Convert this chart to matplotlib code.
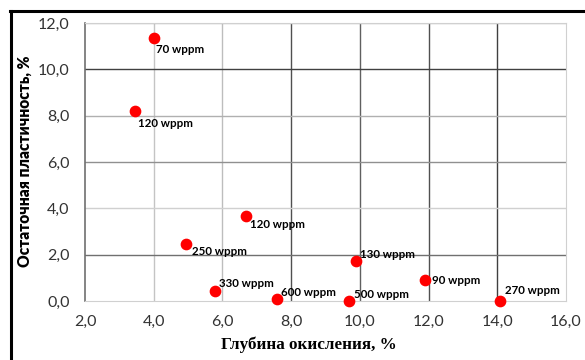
import matplotlib.pyplot as plt
from matplotlib.lines import Line2D

# oxidation depth vs residual plasticity, hydrogen content labels
depth = [4.0, 3.46, 6.68, 4.94, 5.78, 7.58, 9.89, 11.89, 9.68, 14.08]
plast = [11.35, 8.2, 3.65, 2.46, 0.45, 0.1, 1.72, 0.9, 0.02, 0.02]
labels = ['70 wppm', '120 wppm', '120 wppm', '250 wppm', '330 wppm',
          '600 wppm', '130 wppm', '90 wppm', '500 wppm', '270 wppm']
xticks = [2, 4, 6, 8, 10, 12, 14, 16]
yticks = [0, 2, 4, 6, 8, 10, 12]

# label offsets in pixels (dx, dy)
offs = [(2, -11), (3, -12), (4, -8), (6, -7), (4, 7),
        (4, 6), (4, 7), (7, 0), (5, 6), (5, 10)]

fig = plt.figure(figsize=(5.85, 3.6), dpi=100)
ax = fig.add_axes([85/585, 1-301/360, (566-85)/585, (301-23)/360])
ax.set_xlim(2, 16)
ax.set_ylim(0, 12)

# scanned grid: some lines darker than others
vcol = {4: '#c4c4c4', 6: '#bdbdbd', 8: '#505050', 10: '#606060',
        12: '#505050', 14: '#404040'}
hcol = {2: '#707070', 4: '#d0d0d0', 6: '#909090', 8: '#b0b0b0',
        10: '#404040', 12: '#b8b8b8'}
for v, c in vcol.items():
    ax.axvline(v, color=c, lw=1.0, zorder=1)
for h, c in hcol.items():
    ax.axhline(h, color=c, lw=1.0, zorder=1)

for s in ['top', 'right', 'bottom']:
    ax.spines[s].set_color('#d0d0d0')
ax.spines['left'].set_color('#707070')
ax.spines['left'].set_linewidth(1.2)

ax.scatter(depth, plast, s=55, color='#ff0000', zorder=3, clip_on=False)
for x, y, t, o in zip(depth, plast, labels, offs):
    ax.annotate(t, (x, y), xytext=o, textcoords='offset pixels',
                ha='left', va='center', fontsize=8.3, fontweight='bold',
                family='Lato', zorder=4)

ax.set_xticks(xticks)
ax.set_yticks(yticks)
ax.set_xticklabels(['{:.1f}'.format(v).replace('.', ',') for v in xticks],
                   family='Lato', fontsize=11.5, color='#333333')
ax.set_yticklabels(['{:.1f}'.format(v).replace('.', ',') for v in yticks],
                   family='Lato', fontsize=11.5, color='#333333')
ax.tick_params(axis='y', length=0, pad=11)
ax.tick_params(axis='x', length=0, pad=10)

fig.text(25/585, 1-161/360, 'Остаточная пластичность, %', rotation=90,
         ha='center', va='center', fontsize=11.2, fontweight='heavy',
         family='Lato')
fig.text(309/585, 1-345/360, 'Глубина окисления, %', ha='center',
         va='center', fontsize=12.3, fontweight='bold', family='Liberation Serif')

# frame lines (top and left) of the scanned figure
fig.add_artist(Line2D([10/585, 1], [1-11/360, 1-11/360], color='black', lw=2.2))
fig.add_artist(Line2D([11/585, 11/585], [0, 1-11/360], color='black', lw=2.2))

fig.savefig('out.png', dpi=100)
